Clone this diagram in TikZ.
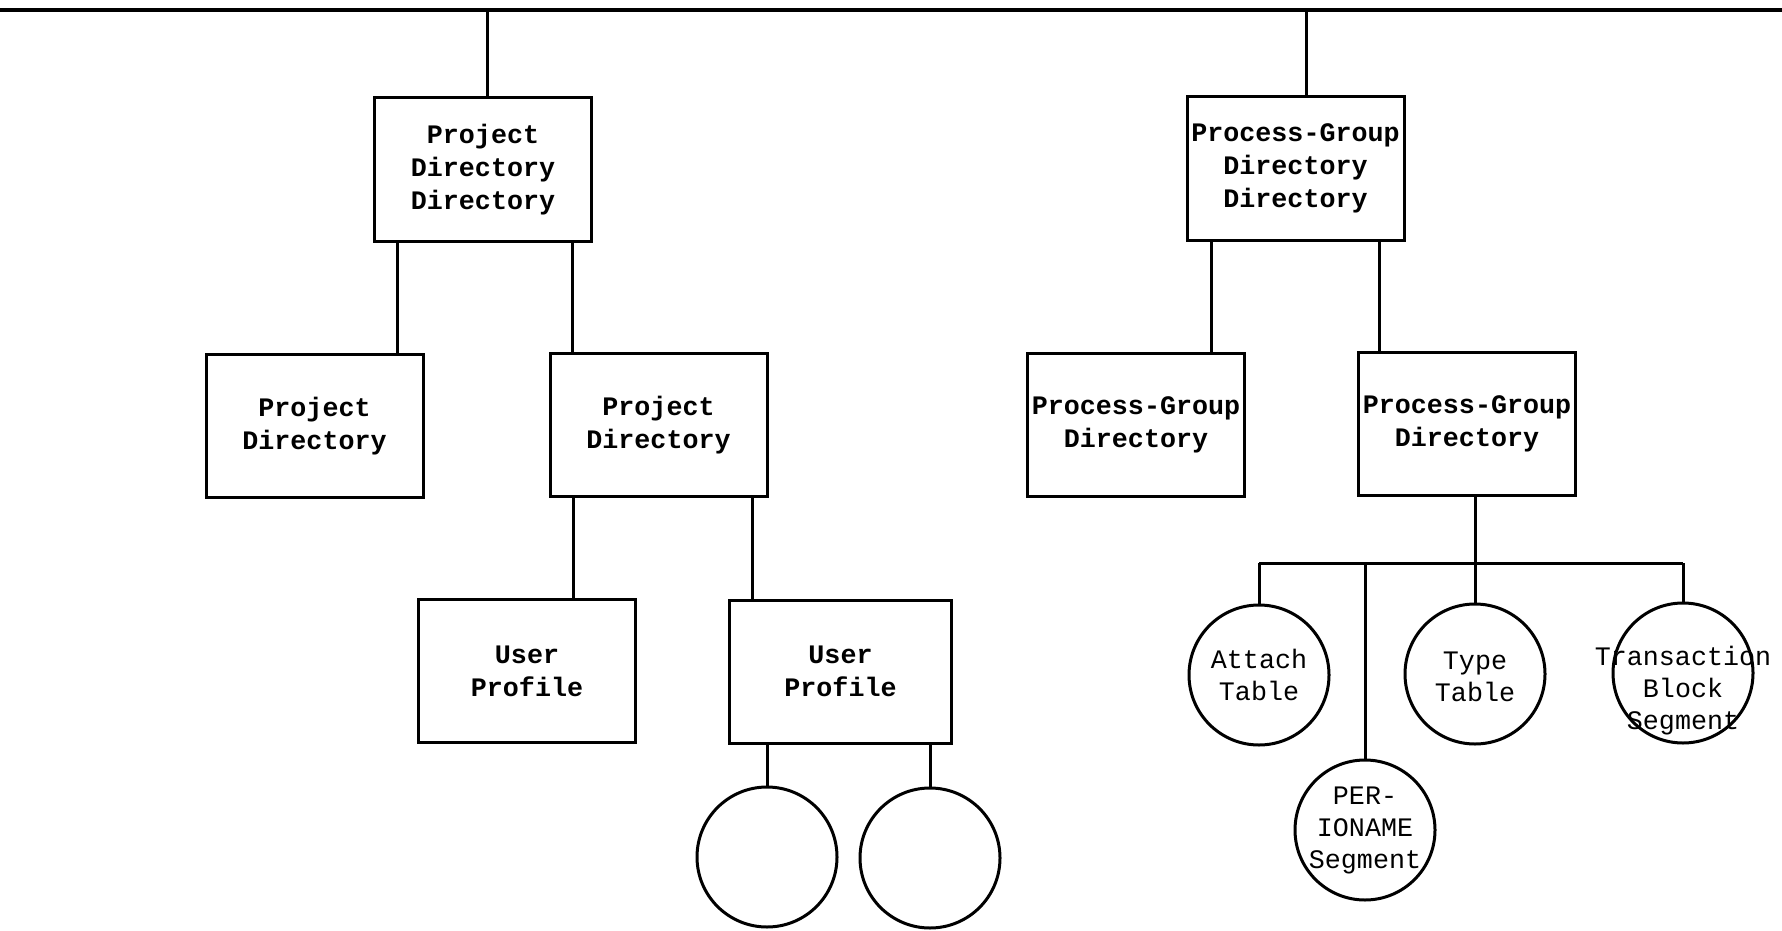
\documentclass[tikz,border=0pt]{standalone}
\usepackage{fontspec}
\newfontfamily\typefont{Liberation Mono}
\usetikzlibrary{positioning,calc}

\begin{document}
\begin{tikzpicture}[x=1pt, y=-1pt, line width=3pt,
        dirbox/.style={draw, rectangle, minimum width=217pt, minimum height=143pt, inner sep=0pt, align=center, font=\typefont\bfseries\fontsize{26.7}{33}\selectfont},
        segcirc/.style={draw, circle, minimum size=140pt, inner sep=0pt},
        segtext/.style={align=center, font=\typefont\fontsize{26.7}{32}\selectfont}]
    \useasboundingbox (0,0) rectangle (1782,931);
    \coordinate (railL) at (0,10);
    \coordinate (railR) at (1782,10);
    \draw[line width=4pt] (railL) -- (railR);

    \node[dirbox] (pdd) at (483,169.5) {Project\\Directory\\Directory};
    \node[dirbox] (pd1) at (314.5,426) {Project\\Directory};
    \node[dirbox] (pd2) at (658.5,425) {Project\\Directory};
    \node[dirbox] (up1) at (527,671) {User\\Profile};
    \node[dirbox, minimum width=222pt] (up2) at (840.5,671.5) {User\\Profile};
    \node[segcirc] (uc1) at (767,857) {};
    \node[segcirc] (uc2) at (930,858) {};

    \node[dirbox] (pgdd) at (1295.5,168.5) {Process-Group\\Directory\\Directory};
    \node[dirbox] (pgd1) at (1136,424.5) {Process-Group\\Directory};
    \node[dirbox] (pgd2) at (1467,424) {Process-Group\\Directory};
    \node[segcirc, label={[segtext]center:Attach\\Table}] (tat) at (1259,675) {};
    \node[segcirc, label={[segtext]center:PER-\\IONAME\\Segment}] (per) at (1365,830) {};
    \node[segcirc, label={[segtext, yshift=-3pt]center:Type\\Table}] (tt) at (1475,674) {};
    \node[segcirc, label={[segtext, yshift=-18pt]center:Transaction\\Block\\Segment}] (tbs) at (1683,673) {};
    \coordinate (bus) at (1475,563);

    \draw ($(pdd.north)+(4,0)$) -- ($(pdd.north |- railL)+(4,0)$);
    \draw ($(pd1.north)+(83,0)$) -- ($(pd1.north |- pdd.south)+(83,0)$);
    \draw ($(pd2.north)+(-86,0)$) -- ($(pd2.north |- pdd.south)+(-86,0)$);
    \draw ($(up1.north)+(46,0)$) -- ($(up1.north |- pd2.south)+(46,0)$);
    \draw ($(up2.north)+(-88,0)$) -- ($(up2.north |- pd2.south)+(-88,0)$);
    \draw (uc1.north) -- (uc1.north |- up2.south);
    \draw (uc2.north) -- (uc2.north |- up2.south);

    \draw ($(pgdd.north)+(11,0)$) -- ($(pgdd.north |- railL)+(11,0)$);
    \draw ($(pgd1.north)+(75,0)$) -- ($(pgd1.north |- pgdd.south)+(75,0)$);
    \draw ($(pgd2.north)+(-88,0)$) -- ($(pgd2.north |- pgdd.south)+(-88,0)$);
    \draw (pgd2.south -| bus) -- (bus);
    \draw (tat.north |- bus) -- (tbs.north |- bus);
    \foreach \seg in {tat,per,tt,tbs}
        \draw (\seg.north) -- (\seg.north |- bus);
\end{tikzpicture}
\end{document}
